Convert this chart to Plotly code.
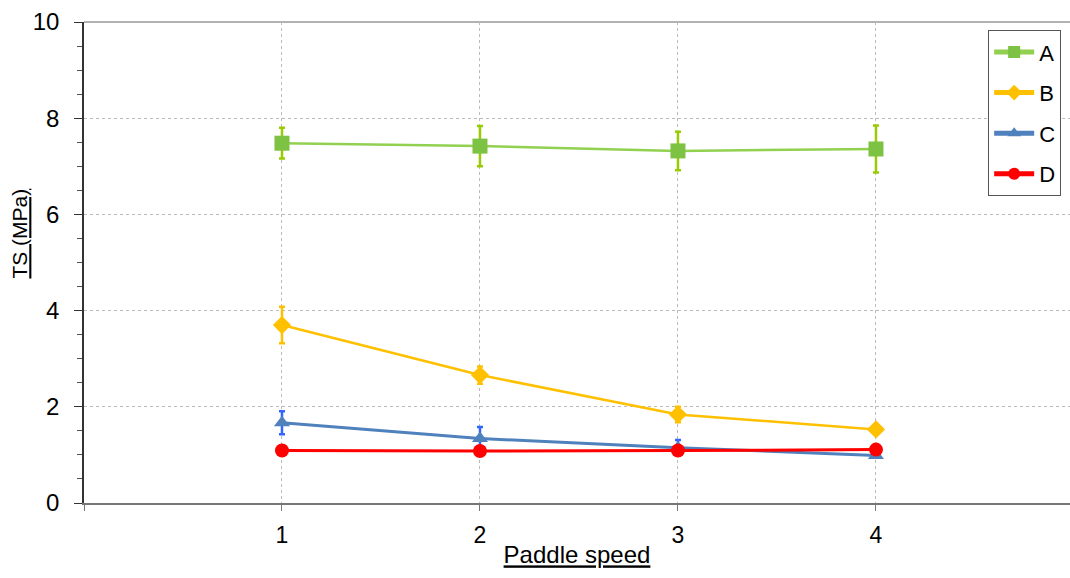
import plotly.graph_objects as go

speeds = [1, 2, 3, 4]
A_vals = [7.48, 7.42, 7.32, 7.36]
A_err = [0.32, 0.42, 0.40, 0.49]
B_vals = [3.70, 2.66, 1.84, 1.53]
B_err = [0.38, 0.18, 0.16, 0.05]
C_vals = [1.67, 1.34, 1.15, 0.99]
C_err = [0.24, 0.24, 0.16, 0.05]
D_vals = [1.09, 1.08, 1.09, 1.11]
D_err = [0.02, 0.02, 0.02, 0.02]
names = ["A", "B", "C", "D"]
x_ticks = [0, 1, 2, 3, 4]
x_ticktext = ["", "1", "2", "3", "4"]
y_ticks = [0, 2, 4, 6, 8, 10]

FONT = "Liberation Sans, Arial, sans-serif"

styles = [
    dict(line="#92D050", marker="#7DC242", err="#99CC00", symbol="square", size=15, width=2.5),
    dict(line="#FFC000", marker="#FFC000", err="#FFC000", symbol="diamond", size=14, width=2.5),
    dict(line="#4F81BD", marker="#4F81BD", err="#3366FF", symbol="triangle-up", size=14, width=3),
    dict(line="#FF0000", marker="#FF0000", err="#FF0000", symbol="circle", size=14, width=3),
]
series = [(A_vals, A_err), (B_vals, B_err), (C_vals, C_err), (D_vals, D_err)]

fig = go.Figure()
for name, (vals, err), st in zip(names, series, styles):
    fig.add_trace(go.Scatter(
        x=speeds, y=vals, name=name, mode="lines+markers",
        legendgroup=name,
        line=dict(color=st["line"], width=st["width"]),
        marker=dict(symbol=st["symbol"], size=st["size"], color=st["marker"]),
        error_y=dict(type="data", array=err, visible=True, color=st["err"],
                     thickness=2.5, width=3),
    ))

fig.update_layout(
    width=1070, height=578,
    margin=dict(l=84, r=0, t=22, b=75),
    paper_bgcolor="white", plot_bgcolor="white",
    font=dict(family=FONT, size=24, color="black"),
    showlegend=True,
    legend=dict(
        x=0.917, y=0.983, xanchor="left", yanchor="top",
        bordercolor="#555555", borderwidth=1, bgcolor="white",
        font=dict(family=FONT, size=22, color="black"),
        tracegroupgap=9, itemwidth=40, itemsizing="constant",
    ),
    xaxis=dict(
        range=[0, 4.98], tickvals=x_ticks, ticktext=x_ticktext,
        showgrid=True, gridcolor="#BBBBBB", griddash="dot", gridwidth=1,
        showline=True, linecolor="#777777", linewidth=2,
        ticks="outside", ticklen=6, tickcolor="#777777",
        ticklabelstandoff=4,
        zeroline=False,
        tickfont=dict(family=FONT, size=23),
        title=dict(text="<u>Paddle speed</u>", font=dict(family=FONT, size=24), standoff=0),
    ),
    yaxis=dict(
        range=[0, 10], tickvals=y_ticks,
        showgrid=True, gridcolor="#BBBBBB", griddash="dot", gridwidth=1,
        showline=True, linecolor="#333333", linewidth=1.5,
        ticks="outside", ticklen=8, tickcolor="#333333",
        ticklabelstandoff=10,
        zeroline=False,
        tickfont=dict(family=FONT, size=24),
        minor=dict(dtick=0.5, ticks="outside", ticklen=5, tickcolor="#555555", showgrid=False),
    ),
    annotations=[dict(
        text="<u>TS (MPa)</u>", textangle=-90, xref="paper", yref="paper",
        x=-0.065, y=0.56, xanchor="center", yanchor="middle", showarrow=False,
        font=dict(family=FONT, size=21, color="black"),
    )],
    shapes=[dict(type="line", xref="x domain", yref="y domain", x0=0, x1=1, y0=1, y1=1,
                 line=dict(color="#999999", width=1.5), layer="below")],
)

fig.write_html("out.html", config={"displayModeBar": False},
               post_script="document.body.style.margin='0px';document.body.style.overflow='hidden';")
